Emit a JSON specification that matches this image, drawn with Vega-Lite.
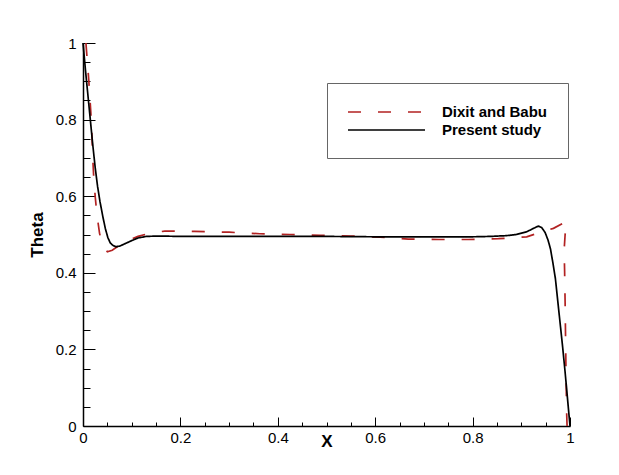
{
  "$schema": "https://vega.github.io/schema/vega-lite/v6.json",
  "autosize": "none",
  "padding": {"left": 83, "top": 43, "right": 49, "bottom": 49},
  "width": 487,
  "height": 383,
  "background": "white",
  "config": {
    "view": {"stroke": null},
    "font": "Liberation Sans",
    "axis": {"grid": false, "domainColor": "black", "domainWidth": 1.5, "tickColor": "black", "tickWidth": 1, "labelColor": "black", "titleColor": "black", "labelFont": "Liberation Sans", "titleFont": "Liberation Sans", "labelFlush": false, "labelOverlap": false}
  },
  "data": {"values": [
    {"s": "Dixit and Babu", "i": 0, "x": 0.006, "y": 1.0},
    {"s": "Dixit and Babu", "i": 1, "x": 0.009, "y": 0.95},
    {"s": "Dixit and Babu", "i": 2, "x": 0.012, "y": 0.9},
    {"s": "Dixit and Babu", "i": 3, "x": 0.014, "y": 0.86},
    {"s": "Dixit and Babu", "i": 4, "x": 0.016, "y": 0.82},
    {"s": "Dixit and Babu", "i": 5, "x": 0.018, "y": 0.77},
    {"s": "Dixit and Babu", "i": 6, "x": 0.02, "y": 0.7},
    {"s": "Dixit and Babu", "i": 7, "x": 0.022, "y": 0.65},
    {"s": "Dixit and Babu", "i": 8, "x": 0.025, "y": 0.6},
    {"s": "Dixit and Babu", "i": 9, "x": 0.028, "y": 0.56},
    {"s": "Dixit and Babu", "i": 10, "x": 0.031, "y": 0.53},
    {"s": "Dixit and Babu", "i": 11, "x": 0.034, "y": 0.503},
    {"s": "Dixit and Babu", "i": 12, "x": 0.038, "y": 0.483},
    {"s": "Dixit and Babu", "i": 13, "x": 0.043, "y": 0.466},
    {"s": "Dixit and Babu", "i": 14, "x": 0.05, "y": 0.455},
    {"s": "Dixit and Babu", "i": 15, "x": 0.06, "y": 0.459},
    {"s": "Dixit and Babu", "i": 16, "x": 0.068, "y": 0.466},
    {"s": "Dixit and Babu", "i": 17, "x": 0.08, "y": 0.476},
    {"s": "Dixit and Babu", "i": 18, "x": 0.095, "y": 0.486},
    {"s": "Dixit and Babu", "i": 19, "x": 0.113, "y": 0.495},
    {"s": "Dixit and Babu", "i": 20, "x": 0.133, "y": 0.502},
    {"s": "Dixit and Babu", "i": 21, "x": 0.168, "y": 0.509},
    {"s": "Dixit and Babu", "i": 22, "x": 0.229, "y": 0.508},
    {"s": "Dixit and Babu", "i": 23, "x": 0.3, "y": 0.506},
    {"s": "Dixit and Babu", "i": 24, "x": 0.363, "y": 0.502},
    {"s": "Dixit and Babu", "i": 25, "x": 0.425, "y": 0.5},
    {"s": "Dixit and Babu", "i": 26, "x": 0.487, "y": 0.498},
    {"s": "Dixit and Babu", "i": 27, "x": 0.55, "y": 0.496},
    {"s": "Dixit and Babu", "i": 28, "x": 0.61, "y": 0.493},
    {"s": "Dixit and Babu", "i": 29, "x": 0.668, "y": 0.488},
    {"s": "Dixit and Babu", "i": 30, "x": 0.73, "y": 0.487},
    {"s": "Dixit and Babu", "i": 31, "x": 0.791, "y": 0.487},
    {"s": "Dixit and Babu", "i": 32, "x": 0.853, "y": 0.489},
    {"s": "Dixit and Babu", "i": 33, "x": 0.911, "y": 0.494},
    {"s": "Dixit and Babu", "i": 34, "x": 0.935, "y": 0.504},
    {"s": "Dixit and Babu", "i": 35, "x": 0.966, "y": 0.516},
    {"s": "Dixit and Babu", "i": 36, "x": 0.993, "y": 0.534},
    {"s": "Dixit and Babu", "i": 37, "x": 0.99, "y": 0.5},
    {"s": "Dixit and Babu", "i": 38, "x": 0.988, "y": 0.46},
    {"s": "Dixit and Babu", "i": 39, "x": 0.989, "y": 0.4},
    {"s": "Dixit and Babu", "i": 40, "x": 0.99, "y": 0.32},
    {"s": "Dixit and Babu", "i": 41, "x": 0.991, "y": 0.22},
    {"s": "Dixit and Babu", "i": 42, "x": 0.992, "y": 0.12},
    {"s": "Dixit and Babu", "i": 43, "x": 0.993, "y": 0.04},
    {"s": "Dixit and Babu", "i": 44, "x": 0.994, "y": 0.0},
    {"s": "Present study", "i": 0, "x": 0.0, "y": 1.0},
    {"s": "Present study", "i": 1, "x": 0.005, "y": 0.93},
    {"s": "Present study", "i": 2, "x": 0.01, "y": 0.865},
    {"s": "Present study", "i": 3, "x": 0.015, "y": 0.8},
    {"s": "Present study", "i": 4, "x": 0.02, "y": 0.735},
    {"s": "Present study", "i": 5, "x": 0.025, "y": 0.675},
    {"s": "Present study", "i": 6, "x": 0.03, "y": 0.625},
    {"s": "Present study", "i": 7, "x": 0.035, "y": 0.585},
    {"s": "Present study", "i": 8, "x": 0.041, "y": 0.545},
    {"s": "Present study", "i": 9, "x": 0.046, "y": 0.515},
    {"s": "Present study", "i": 10, "x": 0.051, "y": 0.492},
    {"s": "Present study", "i": 11, "x": 0.056, "y": 0.478},
    {"s": "Present study", "i": 12, "x": 0.062, "y": 0.471},
    {"s": "Present study", "i": 13, "x": 0.068, "y": 0.468},
    {"s": "Present study", "i": 14, "x": 0.076, "y": 0.47},
    {"s": "Present study", "i": 15, "x": 0.088, "y": 0.477},
    {"s": "Present study", "i": 16, "x": 0.1, "y": 0.484},
    {"s": "Present study", "i": 17, "x": 0.113, "y": 0.491},
    {"s": "Present study", "i": 18, "x": 0.13, "y": 0.495},
    {"s": "Present study", "i": 19, "x": 0.154, "y": 0.496},
    {"s": "Present study", "i": 20, "x": 0.2, "y": 0.495},
    {"s": "Present study", "i": 21, "x": 0.3, "y": 0.495},
    {"s": "Present study", "i": 22, "x": 0.4, "y": 0.495},
    {"s": "Present study", "i": 23, "x": 0.5, "y": 0.495},
    {"s": "Present study", "i": 24, "x": 0.6, "y": 0.494},
    {"s": "Present study", "i": 25, "x": 0.7, "y": 0.494},
    {"s": "Present study", "i": 26, "x": 0.8, "y": 0.494},
    {"s": "Present study", "i": 27, "x": 0.836, "y": 0.495},
    {"s": "Present study", "i": 28, "x": 0.87, "y": 0.497},
    {"s": "Present study", "i": 29, "x": 0.89, "y": 0.5},
    {"s": "Present study", "i": 30, "x": 0.911, "y": 0.507},
    {"s": "Present study", "i": 31, "x": 0.925, "y": 0.516},
    {"s": "Present study", "i": 32, "x": 0.935, "y": 0.522},
    {"s": "Present study", "i": 33, "x": 0.942, "y": 0.518},
    {"s": "Present study", "i": 34, "x": 0.949, "y": 0.505},
    {"s": "Present study", "i": 35, "x": 0.955, "y": 0.485},
    {"s": "Present study", "i": 36, "x": 0.96, "y": 0.462},
    {"s": "Present study", "i": 37, "x": 0.965, "y": 0.425},
    {"s": "Present study", "i": 38, "x": 0.97, "y": 0.385},
    {"s": "Present study", "i": 39, "x": 0.975, "y": 0.325},
    {"s": "Present study", "i": 40, "x": 0.98, "y": 0.265},
    {"s": "Present study", "i": 41, "x": 0.985, "y": 0.205},
    {"s": "Present study", "i": 42, "x": 0.99, "y": 0.14},
    {"s": "Present study", "i": 43, "x": 0.995, "y": 0.07},
    {"s": "Present study", "i": 44, "x": 1.0, "y": 0.0}
  ]},
  "resolve": {"axis": {"x": "independent", "y": "independent"}},
  "layer": [
    {
      "mark": {"type": "line", "opacity": 0},
      "encoding": {
        "x": {"field": "x", "type": "quantitative", "scale": {"domain": [0, 1], "nice": false},
              "axis": {"orient": "bottom", "values": [0.05, 0.1, 0.15, 0.25, 0.3, 0.35, 0.45, 0.5, 0.55, 0.65, 0.7, 0.75, 0.85, 0.9, 0.95], "labels": false, "domain": false, "tickSize": -4, "title": null}},
        "y": {"field": "y", "type": "quantitative", "scale": {"domain": [0, 1], "nice": false},
              "axis": {"orient": "left", "values": [0.05, 0.1, 0.15, 0.25, 0.3, 0.35, 0.45, 0.5, 0.55, 0.65, 0.7, 0.75, 0.85, 0.9, 0.95], "labels": false, "domain": false, "tickSize": -7, "title": null}},
        "detail": {"field": "s"},
        "order": {"field": "i"}
      }
    },
    {
      "mark": {"type": "line", "strokeWidth": 1.7},
      "encoding": {
        "x": {"field": "x", "type": "quantitative", "scale": {"domain": [0, 1], "nice": false},
              "axis": {"orient": "bottom", "values": [0, 0.2, 0.4, 0.6, 0.8, 1], "format": "~g", "tickSize": -9, "labelPadding": 13, "labelFontSize": 15, "title": "X", "titleFontSize": 17, "titleFontWeight": "bold", "titlePadding": -12}},
        "y": {"field": "y", "type": "quantitative", "scale": {"domain": [0, 1], "nice": false},
              "axis": {"orient": "left", "values": [0, 0.2, 0.4, 0.6, 0.8, 1], "format": "~g", "tickSize": -12, "labelPadding": 19, "labelFontSize": 15, "title": "Theta", "titleFontSize": 17, "titleFontWeight": "bold", "titlePadding": 9}},
        "color": {"field": "s", "type": "nominal", "scale": {"domain": ["Dixit and Babu", "Present study"], "range": ["#b22222", "#000000"]},
                  "legend": {"title": " ", "titleFontSize": 4, "titlePadding": 0, "orient": "none", "legendX": 244, "legendY": 40, "strokeColor": "#666666", "padding": 20, "symbolType": "stroke", "symbolSize": 5929, "symbolStrokeWidth": 1.7, "clipHeight": 10, "rowPadding": 3, "labelFontSize": 15, "labelFontWeight": "bold", "labelOffset": 16, "labelLimit": 0, "labelColor": "black"}},
        "strokeDash": {"field": "s", "type": "nominal", "scale": {"domain": ["Dixit and Babu", "Present study"], "range": [[13, 17], [1, 0]]},
                  "legend": {"title": " ", "titleFontSize": 4, "titlePadding": 0, "orient": "none", "legendX": 244, "legendY": 40, "strokeColor": "#666666", "padding": 20, "symbolType": "stroke", "symbolSize": 5929, "symbolStrokeWidth": 1.7, "clipHeight": 10, "rowPadding": 3, "labelFontSize": 15, "labelFontWeight": "bold", "labelOffset": 16, "labelLimit": 0, "labelColor": "black"}},
        "order": {"field": "i"}
      }
    }
  ]
}
